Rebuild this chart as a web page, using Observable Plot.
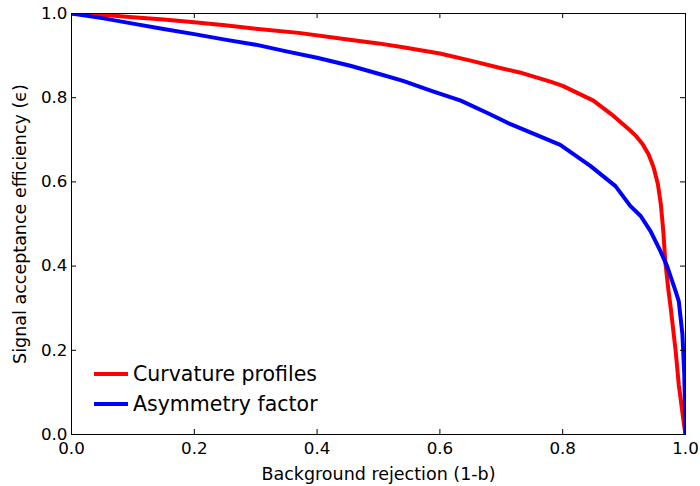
<!DOCTYPE html>
<html>
<head>
<meta charset="utf-8">
<script src="https://cdn.jsdelivr.net/npm/d3@7"></script>
<script src="https://cdn.jsdelivr.net/npm/@observablehq/plot@0.6"></script>
<style>
  html, body { margin: 0; padding: 0; background: white; }
  svg { display: block; }
  svg, svg text { font-family: "DejaVu Sans", sans-serif !important; }
</style>
</head>
<body>
<div id="chart"></div>
<script>
// Curvature profiles (red)
const redX = [0, 0.05, 0.1, 0.15, 0.2, 0.25, 0.3, 0.37, 0.45, 0.5, 0.54, 0.6, 0.65, 0.7, 0.73, 0.78, 0.8, 0.85, 0.88, 0.91, 0.92, 0.93, 0.94, 0.948, 0.955, 0.96, 0.964, 0.967, 0.972, 0.976, 0.984, 0.989, 0.997, 1.0];
const redY = [1.0, 0.997, 0.991, 0.986, 0.979, 0.972, 0.964, 0.954, 0.938, 0.929, 0.920, 0.905, 0.888, 0.870, 0.860, 0.838, 0.828, 0.793, 0.760, 0.722, 0.708, 0.690, 0.665, 0.635, 0.595, 0.545, 0.480, 0.412, 0.345, 0.300, 0.198, 0.119, 0.030, 0.0];
// Asymmetry factor (blue)
const blueX = [0, 0.05, 0.1, 0.15, 0.2, 0.25, 0.3, 0.35, 0.4, 0.454, 0.5, 0.54, 0.585, 0.634, 0.68, 0.715, 0.76, 0.796, 0.845, 0.886, 0.91, 0.927, 0.943, 0.959, 0.97, 0.984, 0.989, 0.995, 0.998, 1.0];
const blueY = [1.0, 0.989, 0.976, 0.963, 0.951, 0.938, 0.926, 0.910, 0.895, 0.876, 0.857, 0.840, 0.817, 0.793, 0.762, 0.737, 0.710, 0.688, 0.638, 0.590, 0.543, 0.519, 0.483, 0.436, 0.400, 0.340, 0.317, 0.238, 0.143, 0.0];

const seriesNames = ["Curvature profiles", "Asymmetry factor"];
const seriesColors = ["#ff0000", "#0000ff"];
const xTicks = [0, 0.2, 0.4, 0.6, 0.8, 1.0];
const yTicks = [0, 0.2, 0.4, 0.6, 0.8, 1.0];
const xLabel = "Background rejection (1-b)";
const yLabel = "Signal acceptance efficiency (\u03F5)";

const red = redX.map((x, i) => ({x, y: redY[i]}));
const blue = blueX.map((x, i) => ({x, y: blueY[i]}));

const W = 700, H = 486, mL = 71, mR = 15, mT = 13, mB = 52;
const innerW = W - mL - mR, innerH = H - mT - mB;
const tickLen = 5;
const FONT = "DejaVu Sans";

const chart = Plot.plot({
  width: W, height: H,
  marginLeft: mL, marginRight: mR, marginTop: mT, marginBottom: mB,
  x: {domain: [0, 1]},
  y: {domain: [0, 1]},
  style: {fontFamily: FONT, background: "white", color: "black"},
  marks: [
    Plot.line(red, {x: "x", y: "y", stroke: seriesColors[0], strokeWidth: 4, clip: true}),
    Plot.line(blue, {x: "x", y: "y", stroke: seriesColors[1], strokeWidth: 4, clip: true}),
    Plot.tickX(xTicks, {x: d => d, insetTop: innerH - tickLen, stroke: "black"}),
    Plot.tickX(xTicks, {x: d => d, insetBottom: innerH - tickLen, stroke: "black"}),
    Plot.tickY(yTicks, {y: d => d, insetRight: innerW - tickLen, stroke: "black"}),
    Plot.tickY(yTicks, {y: d => d, insetLeft: innerW - tickLen, stroke: "black"}),
    Plot.frame({stroke: "black", strokeWidth: 1}),
    Plot.axisX(xTicks, {tickSize: 0, tickPadding: 8, tickFormat: d3.format(".1f"), fontSize: 16.7, label: null}),
    Plot.axisY(yTicks, {tickSize: 0, tickPadding: 4, tickFormat: d3.format(".1f"), fontSize: 16.7, label: null}),
    Plot.text([xLabel], {text: d => d, frameAnchor: "bottom", textAnchor: "middle", lineAnchor: "middle", dy: 40, fontSize: 17.5}),
    Plot.text([yLabel], {text: d => d, frameAnchor: "left", textAnchor: "middle", lineAnchor: "middle", rotate: -90, dx: -51, fontSize: 17.5})
  ]
});

// Legend inside the plot, lower left
const svg = d3.select(chart);
const lg = svg.append("g").attr("font-family", FONT).attr("font-size", 20.5).attr("text-anchor", "start");
seriesNames.forEach((name, i) => {
  const yy = 374 + i * 30;
  lg.append("line").attr("x1", 94).attr("x2", 128).attr("y1", yy).attr("y2", yy)
    .attr("stroke", seriesColors[i]).attr("stroke-width", 4);
  lg.append("text").attr("x", 133).attr("y", yy).attr("dy", "0.35em").attr("fill", "black").text(name);
});

document.getElementById("chart").appendChild(chart);
</script>
</body>
</html>
